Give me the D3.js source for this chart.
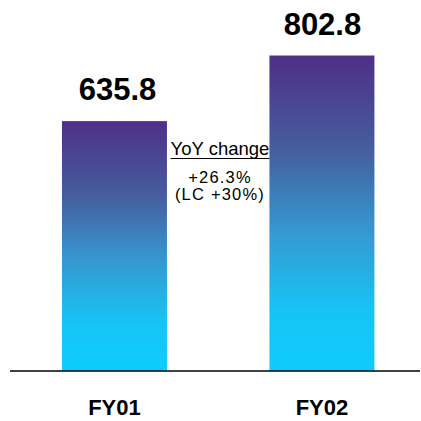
<!DOCTYPE html>
<html><head><meta charset="utf-8">
<script src="https://cdn.jsdelivr.net/npm/d3@7"></script>
<style>html,body{margin:0;padding:0;background:#fff;}svg{display:block;font-family:"Liberation Sans",Arial,sans-serif;}</style>
</head><body>
<script>
const categories = ["FY01", "FY02"];
const values = [635.8, 802.8];
const valueLabels = ["635.8", "802.8"];
const noteLines = ["+26.3%", "(LC +30%)"];
const noteTitle = "YoY change";

const W = 421, H = 421;
const svg = d3.select("body").append("svg").attr("width", W).attr("height", H);

const defs = svg.append("defs");
const grad = defs.append("linearGradient").attr("id", "barGrad")
  .attr("x1", 0).attr("y1", 0).attr("x2", 0).attr("y2", 1);
[[0, "#4e2f87"], [0.3, "#455e9e"], [0.55, "#3697cf"], [0.8, "#17c3f4"], [1, "#0dcdfe"]]
  .forEach(([o, c]) => grad.append("stop").attr("offset", o).attr("stop-color", c));

const baseY = 371;
const x = d3.scaleBand().domain(categories).range([10.1, 426.3]).paddingInner(0.494).paddingOuter(0.25);
const y = d3.scaleLinear().domain([0, 802.8]).range([baseY, 55.5]);

svg.selectAll("rect.bar").data(values).join("rect").attr("class", "bar")
  .attr("x", (d, i) => x(categories[i]))
  .attr("width", x.bandwidth())
  .attr("y", d => y(d))
  .attr("height", d => baseY - y(d))
  .attr("fill", "url(#barGrad)");

svg.append("line").attr("x1", 10).attr("x2", 420).attr("y1", baseY).attr("y2", baseY)
  .attr("stroke", "#000").attr("stroke-width", 1.5);

svg.selectAll("text.val").data(values).join("text").attr("class", "val")
  .attr("x", (d, i) => x(categories[i]) + x.bandwidth() / 2 + (i === 0 ? 3 : 0.5))
  .attr("y", d => y(d) - 21)
  .attr("text-anchor", "middle").attr("font-weight", "bold").attr("font-size", 31)
  .text((d, i) => valueLabels[i]);

svg.selectAll("text.cat").data(categories).join("text").attr("class", "cat")
  .attr("x", d => x(d) + x.bandwidth() / 2)
  .attr("y", 415)
  .attr("text-anchor", "middle").attr("font-weight", "bold").attr("font-size", 22)
  .text(d => d);

const cx = 220;
const t = svg.append("text").attr("x", cx).attr("y", 154.5).attr("text-anchor", "middle")
  .attr("font-size", 18.5).text(noteTitle);
const bb = t.node().getBBox();
svg.append("line").attr("x1", bb.x).attr("x2", bb.x + bb.width).attr("y1", 158.5).attr("y2", 158.5)
  .attr("stroke", "#000").attr("stroke-width", 1.2);

svg.selectAll("text.note").data(noteLines).join("text").attr("class", "note")
  .attr("x", cx).attr("y", (d, i) => 183 + i * 17)
  .attr("text-anchor", "middle").attr("font-size", 16.5).attr("letter-spacing", 1.2)
  .text(d => d);
</script>
</body></html>
